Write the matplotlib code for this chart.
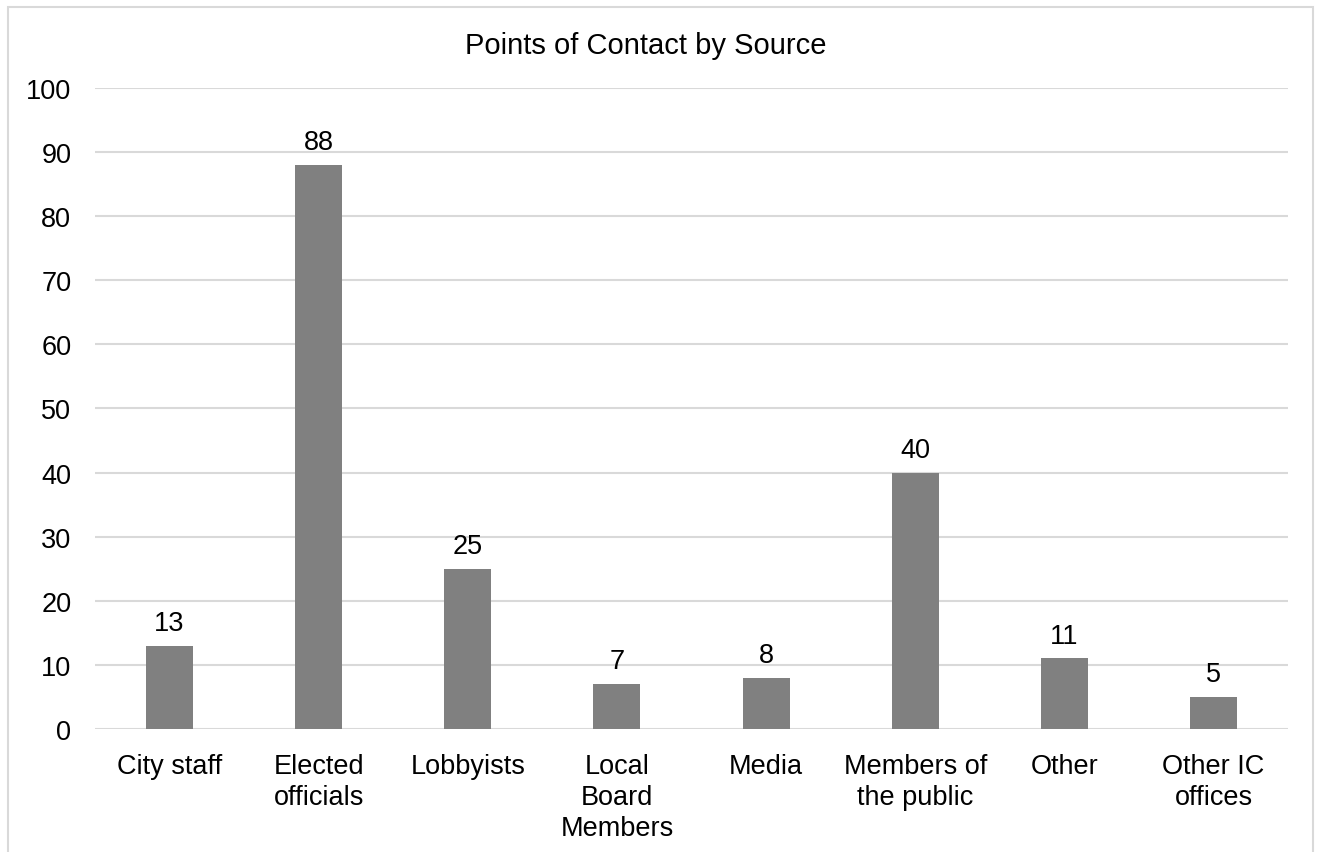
import matplotlib.pyplot as plt
from matplotlib.patches import Rectangle

plt.rcParams['font.family'] = ['Liberation Sans', 'DejaVu Sans']

categories = ["City staff", "Elected\nofficials", "Lobbyists", "Local\nBoard\nMembers",
              "Media", "Members of\nthe public", "Other", "Other IC\noffices"]
counts = [13, 88, 25, 7, 8, 40, 11, 5]

fig = plt.figure(figsize=(13.17, 8.53), dpi=100)
ax = fig.add_axes([0.0721, 0.1442, 0.9059, 0.7515])

x = range(len(categories))
bars = ax.bar(x, counts, width=0.315, color='#808080', zorder=2)

ax.set_ylim(0, 100)
ax.set_xlim(-0.5, len(categories) - 0.5)
ax.set_yticks(range(0, 101, 10))
ax.set_xticks(list(x))
ax.set_xticklabels(categories, linespacing=1.27)
ax.tick_params(axis='both', length=0, labelsize=19.5, colors='#000000')
ax.tick_params(axis='y', pad=17)
ax.tick_params(axis='x', pad=17)
ax.grid(axis='y', color='#d9d9d9', linewidth=1.5, zorder=0)
for s in ax.spines.values():
    s.set_visible(False)

for b, v in zip(bars, counts):
    ax.annotate(str(v), (b.get_x() + b.get_width() / 2, v), xytext=(0, 7),
                textcoords='offset points', ha='center', va='bottom', fontsize=19.5)

fig.text(646 / 1317, 1 - 46 / 853, "Points of Contact by Source", ha='center', va='center',
         fontsize=21)

fig.patches.append(Rectangle((8 / 1317, -0.05), (1313 - 8) / 1317, 1 - 8 / 853 + 0.05,
                             transform=fig.transFigure, fill=False, edgecolor='#d9d9d9',
                             linewidth=1.5))

fig.savefig("out.png", dpi=100)
